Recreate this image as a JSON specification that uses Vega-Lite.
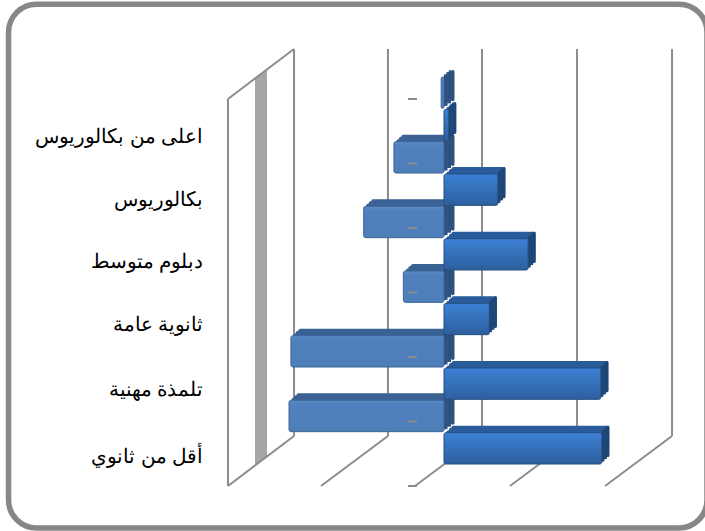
{
"$schema":"https://vega.github.io/schema/vega-lite/v6.json",
"width":444,"height":437,"autosize":"none",
"padding":{"left":228,"top":49,"right":33,"bottom":45},
"background":"white",
"config":{"view":{"stroke":null}},
"datasets":{
"frame":[{"x":-46.08,"x2":27.83,"y":7.47,"y2":-0.651}],
"stripe":[{"x":-20.0,"top":6.33,"bottom":0.318},{"x":-18.73,"top":6.46,"bottom":0.457}],
"grid":[
{"x":-22.86,"x2":-22.86,"y":0,"y2":6},
{"x":-22.86,"x2":-15.87,"y":6,"y2":6.775},
{"x":-15.87,"x2":-15.87,"y":0.775,"y2":6.775},
{"x":-5.93,"x2":-5.93,"y":0.775,"y2":6.775},
{"x":4.02,"x2":4.02,"y":0.775,"y2":6.775},
{"x":14.07,"x2":14.07,"y":0.775,"y2":6.775},
{"x":24.13,"x2":24.13,"y":0.775,"y2":6.775},
{"x":-22.86,"x2":-15.87,"y":0,"y2":0.775},
{"x":-13.02,"x2":-5.93,"y":0,"y2":0.775},
{"x":-3.07,"x2":4.02,"y":0,"y2":0.775},
{"x":6.98,"x2":14.07,"y":0,"y2":0.775},
{"x":17.04,"x2":24.13,"y":0,"y2":0.775}
],
"depthticks":[
{"x":-3.81,"x2":-2.86,"level":0},{"x":-3.81,"x2":-2.86,"level":1},{"x":-3.81,"x2":-2.86,"level":2},{"x":-3.81,"x2":-2.86,"level":3},{"x":-3.81,"x2":-2.86,"level":4},{"x":-3.81,"x2":-2.86,"level":5},{"x":-3.81,"x2":-2.86,"level":6}],
"catlabels":[
{"category":"اعلى من بكالوريوس","x":-25.45,"level":5.41},
{"category":"بكالوريوس","x":-25.45,"level":4.43},
{"category":"دبلوم متوسط","x":-25.45,"level":3.47},
{"category":"ثانوية عامة","x":-25.45,"level":2.5},
{"category":"تلمذة مهنية","x":-25.45,"level":1.49},
{"category":"أقل من ثانوي","x":-25.45,"level":0.45}
],
"left":[
{"bar":"1a","category":"اعلى من بكالوريوس","value":-0.3},
{"bar":"2a","category":"بكالوريوس","value":-5.3},
{"bar":"3a","category":"دبلوم متوسط","value":-8.5},
{"bar":"4a","category":"ثانوية عامة","value":-4.3},
{"bar":"5a","category":"تلمذة مهنية","value":-16.2},
{"bar":"6a","category":"أقل من ثانوي","value":-16.4}
],
"right":[
{"bar":"1b","category":"اعلى من بكالوريوس","value":0.5},
{"bar":"2b","category":"بكالوريوس","value":5.7},
{"bar":"3b","category":"دبلوم متوسط","value":8.9},
{"bar":"4b","category":"ثانوية عامة","value":4.8},
{"bar":"5b","category":"تلمذة مهنية","value":16.6},
{"bar":"6b","category":"أقل من ثانوي","value":16.7}
]},
"encoding":{
"x":{"field":"value","type":"quantitative","scale":{"domain":[-22.857,24.127],"nice":false,"zero":false},"axis":null},
"y":{"field":"bar","type":"nominal","scale":{"domain":["1a","1b","2a","2b","3a","3b","4a","4b","5a","5b","6a","6b"],"range":[28,415],"paddingInner":0.03,"paddingOuter":0},"axis":null}
},
"resolve":{"scale":{"y":"independent"},"axis":{"y":"independent"}},
"layer":[
{"data":{"name":"frame"},"mark":{"type":"rect","fill":"white","stroke":"#878787","strokeWidth":5.5,"cornerRadius":28},
 "encoding":{"x":{"field":"x","type":"quantitative"},"x2":{"field":"x2"},"y":{"field":"y","type":"quantitative","scale":{"domain":[0,6.775],"nice":false,"zero":false},"axis":null},"y2":{"field":"y2"}}},
{"data":{"name":"stripe"},"mark":{"type":"area","orient":"vertical","color":"#a6a6a6"},
 "encoding":{"x":{"field":"x","type":"quantitative"},"y":{"field":"top","type":"quantitative","scale":{"domain":[0,6.775],"nice":false,"zero":false},"axis":null},"y2":{"field":"bottom"}}},
{"data":{"name":"grid"},"mark":{"type":"rule","color":"#8c8c8c","strokeWidth":2},
 "encoding":{"x":{"field":"x","type":"quantitative"},"x2":{"field":"x2"},"y":{"field":"y","type":"quantitative","scale":{"domain":[0,6.775],"nice":false,"zero":false},"axis":null},"y2":{"field":"y2"}}},

{"data":{"name":"left"},"mark":{"type":"bar","color":"#3a6294","cornerRadius":2,"xOffset":2.5,"x2Offset":2.5,"yOffset":-2.5},"encoding":{"x2":{"datum":0}}},
{"data":{"name":"left"},"mark":{"type":"bar","color":"#3a6294","cornerRadius":2,"xOffset":5,"x2Offset":5,"yOffset":-5},"encoding":{"x2":{"datum":0}}},
{"data":{"name":"left"},"mark":{"type":"bar","color":"#3a6294","cornerRadius":2,"xOffset":7.5,"x2Offset":7.5,"yOffset":-7},"encoding":{"x2":{"datum":0}}},
{"data":{"name":"left"},"mark":{"type":"bar","color":"#2f5180","xOffset":0,"x2Offset":3.5,"yOffset":-2.5},"encoding":{"x":{"datum":0,"type":"quantitative"},"x2":{"datum":0}}},
{"data":{"name":"left"},"mark":{"type":"bar","color":"#2f5180","xOffset":3.5,"x2Offset":7,"yOffset":-5},"encoding":{"x":{"datum":0,"type":"quantitative"},"x2":{"datum":0}}},
{"data":{"name":"left"},"mark":{"type":"bar","color":"#2f5180","cornerRadius":2,"xOffset":7,"x2Offset":10.5,"yOffset":-7},"encoding":{"x":{"datum":0,"type":"quantitative"},"x2":{"datum":0}}},
{"data":{"name":"left"},"mark":{"type":"bar","cornerRadius":2,"stroke":"#3d6596","strokeWidth":1,"fill":{"x1":0,"y1":0,"x2":0,"y2":1,"gradient":"linear","stops":[{"offset":0,"color":"#5c8bc6"},{"offset":0.15,"color":"#4f80bd"},{"offset":1,"color":"#4f7fb9"}]}},"encoding":{"x2":{"datum":0}}},

{"data":{"name":"right"},"mark":{"type":"bar","color":"#2a5c9c","cornerRadius":2,"xOffset":2.5,"x2Offset":2.5,"yOffset":-2.5},"encoding":{"x2":{"datum":0}}},
{"data":{"name":"right"},"mark":{"type":"bar","color":"#2a5c9c","cornerRadius":2,"xOffset":5,"x2Offset":5,"yOffset":-5},"encoding":{"x2":{"datum":0}}},
{"data":{"name":"right"},"mark":{"type":"bar","color":"#2a5c9c","cornerRadius":2,"xOffset":7.5,"x2Offset":7.5,"yOffset":-7},"encoding":{"x2":{"datum":0}}},
{"data":{"name":"right"},"mark":{"type":"bar","color":"#1d4674","xOffset":0,"x2Offset":2.5,"yOffset":-2.5},"encoding":{"x2":{"field":"value"}}},
{"data":{"name":"right"},"mark":{"type":"bar","color":"#1d4674","xOffset":2.5,"x2Offset":5,"yOffset":-5},"encoding":{"x2":{"field":"value"}}},
{"data":{"name":"right"},"mark":{"type":"bar","color":"#1d4674","cornerRadius":2,"xOffset":5,"x2Offset":7.5,"yOffset":-7},"encoding":{"x2":{"field":"value"}}},
{"data":{"name":"right"},"mark":{"type":"bar","cornerRadius":2,"stroke":"#24507f","strokeWidth":1,"fill":{"x1":0,"y1":0,"x2":0,"y2":1,"gradient":"linear","stops":[{"offset":0,"color":"#3d7fd6"},{"offset":0.2,"color":"#387ac9"},{"offset":1,"color":"#2e5f9e"}]}},"encoding":{"x2":{"datum":0}}},

{"data":{"name":"depthticks"},"mark":{"type":"rule","color":"#8c8c8c","strokeWidth":2},
 "encoding":{"x":{"field":"x","type":"quantitative"},"x2":{"field":"x2"},"y":{"field":"level","type":"quantitative","scale":{"domain":[0,6.775],"nice":false,"zero":false},"axis":null}}},
{"data":{"name":"catlabels"},"mark":{"type":"text","align":"right","baseline":"middle","font":"Liberation Sans","fontSize":20,"color":"#000000"},
 "encoding":{"x":{"field":"x","type":"quantitative"},"y":{"field":"level","type":"quantitative","scale":{"domain":[0,6.775],"nice":false,"zero":false},"axis":null},"text":{"field":"category"}}}
]}
